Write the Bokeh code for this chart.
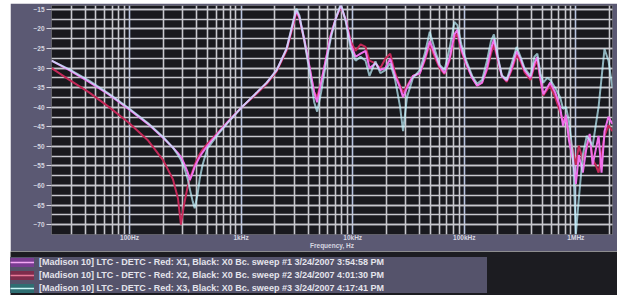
import numpy as np
from bokeh.plotting import figure
from bokeh.models import FixedTicker, Legend, LegendItem, Spacer
from bokeh.layouts import column, row
from bokeh.embed import file_html
from bokeh.resources import INLINE

FREQ_HZ = [20, 28.9, 43.4, 65.2, 98, 147,
           200, 245, 272, 289, 307, 333, 347, 369, 384, 408, 425, 452,
           500, 613, 752, 1021, 1386, 1699, 2084, 2554,
           2945, 3132, 3329, 3687, 4081, 4519, 4804, 5212, 5771, 6390, 7075, 7832, 8673, 9603, 10630, 11770, 13040, 14150,
           15990, 17700, 19600, 21700, 24020, 26600, 28280, 30680, 34680, 40000, 44290, 49040, 54290, 60100, 66560, 73700,
           81600, 86740, 94120, 104200, 117800,
           130400, 144400, 159800, 173500, 184400, 200000, 217000, 240200, 266000, 294600, 319400, 346800, 391800, 425200,
           451800, 480400, 510800, 554000, 588800, 652200, 722200, 767600, 816000, 867400, 941200,
           1000400, 1063600, 1154000, 1252000, 1330600, 1414800, 1503600, 1598400, 1699200, 1806600, 1960000, 2126000]

SWEEP1_DB = [-28.1, -30.5, -33.5, -36.7, -40.4, -44.3,
             -47.8, -50.3, -51.7, -52.7, -54.2, -56.7, -58.6, -56.7, -55.2, -53.7, -52.7, -51.5,
             -49.8, -46.8, -43.9, -39.9, -36.2, -33.7, -30.5, -25.1,
             -18.2, -15.2, -17.0, -22.6, -29.3, -36.2, -38.7, -33.7, -27.6, -21.4, -17.2, -14.0, -17.7, -23.9, -27.1, -26.3, -25.6, -30.0,
             -28.8, -30.5, -30.0, -27.6, -32.0, -35.0, -37.4, -35.0, -32.0, -31.3, -27.6, -23.1, -26.3, -29.5, -31.3, -27.6,
             -21.4, -20.2, -25.1, -28.8, -32.5,
             -34.5, -33.7, -30.0, -25.1, -22.6, -27.6, -32.0, -33.2, -30.0, -25.6, -27.6, -30.5, -32.5, -28.8,
             -27.1, -32.5, -36.7, -35.0, -33.7, -36.2, -39.9, -44.8, -41.9, -48.5, -53.5,
             -59.6, -52.2, -56.7, -49.8, -46.8, -54.7, -51.0, -47.3, -56.7, -46.1, -42.4, -44.3]

SWEEP2_DB = [-30.0, -33.0, -36.2, -39.9, -43.9, -48.5,
             -53.5, -58.4, -63.3, -70.0, -65.1, -60.1, -58.4, -56.2, -54.7, -53.0, -52.0, -50.8,
             -49.3, -46.6, -43.9, -39.9, -36.5, -34.0, -30.8, -25.6,
             -18.7, -15.7, -17.2, -23.1, -29.5, -36.2, -37.4, -33.7, -27.6, -21.4, -17.2, -14.3, -17.7, -23.1, -25.6, -23.9, -24.6, -28.1,
             -28.8, -30.0, -27.6, -26.3, -31.3, -34.5, -36.2, -34.5, -32.0, -31.3, -28.1, -23.9, -27.1, -30.0, -31.5, -28.1,
             -22.2, -21.2, -25.6, -29.1, -32.5,
             -34.5, -33.7, -30.5, -26.3, -23.9, -28.1, -32.0, -33.5, -30.5, -26.6, -28.3, -31.0, -33.0, -29.5,
             -28.1, -33.0, -37.0, -35.5, -34.5, -37.4, -41.1, -43.6, -42.4, -47.3, -51.0,
             -54.7, -49.8, -53.5, -50.3, -47.3, -53.5, -54.7, -56.7, -52.2, -47.3, -44.6, -46.1]

SWEEP3_DB = [-28.1, -30.3, -33.2, -36.5, -40.2, -44.1,
             -47.6, -50.3, -52.2, -53.5, -55.2, -58.4, -60.9, -64.1, -65.8, -62.1, -58.4, -54.7,
             -50.5, -47.1, -44.1, -39.9, -36.2, -33.7, -30.5, -25.1,
             -17.7, -14.8, -16.5, -23.1, -30.5, -38.7, -41.1, -36.2, -28.8, -22.2, -17.2, -13.5, -18.2, -25.1, -28.1, -27.1, -28.1, -32.0,
             -28.3, -31.3, -30.5, -28.8, -33.0, -39.9, -46.1, -37.4, -32.5, -30.5, -26.3, -20.7, -25.1, -29.1, -30.5, -25.1,
             -18.2, -19.0, -23.9, -28.1, -32.0,
             -34.0, -33.0, -28.1, -23.1, -21.4, -27.1, -31.8, -33.0, -28.8, -24.6, -27.1, -30.0, -32.0, -27.1,
             -26.3, -31.3, -33.7, -32.5, -33.0, -35.0, -37.4, -40.4, -39.9, -43.6, -52.2,
             -72.4, -63.3, -52.2, -47.3, -48.5, -49.8, -44.8, -39.9, -32.5, -25.1, -28.1, -35.0]

Y_TICKS = [-15, -20, -25, -30, -35, -40, -45, -50, -55, -60, -65, -70]
X_TICKS = [100, 1000, 10000, 100000, 1000000]
X_TICK_LABELS = ["100Hz", "1kHz", "10kHz", "100kHz", "1MHz"]
LEGEND_LABELS = [
    "[Madison 10] LTC - DETC - Red: X1, Black: X0 Bc. sweep #1 3/24/2007 3:54:58 PM",
    "[Madison 10] LTC - DETC - Red: X2, Black: X0 Bc. sweep #2 3/24/2007 4:01:30 PM",
    "[Madison 10] LTC - DETC - Red: X3, Black: X0 Bc. sweep #3 3/24/2007 4:17:41 PM",
]

FONT = "Liberation Sans"
PANEL = "#5b5973"
GRID = "#c8c8ce"
TXT = "#d6d6e0"

x_minor = [m * 10.0 ** e for e in range(1, 7) for m in range(2, 10)
           if 20 <= m * 10.0 ** e <= 2.2e6]
y_minor = [float(v) for v in np.arange(-72.5, -12.0, 2.5)]

p = figure(width=607, height=248, x_axis_type="log",
           x_range=(20, 2.13e6), y_range=(-72.5, -14.0),
           output_backend="svg", toolbar_location=None,
           min_border_left=41, min_border_right=5, min_border_top=2, min_border_bottom=12,
           background_fill_color="#19191e", border_fill_color=PANEL,
           outline_line_color=None)

p.xaxis.ticker = FixedTicker(ticks=X_TICKS, minor_ticks=x_minor)
p.xaxis.major_label_overrides = {t: l for t, l in zip(X_TICKS, X_TICK_LABELS)}
p.yaxis.ticker = FixedTicker(ticks=Y_TICKS, minor_ticks=y_minor)

for g in (p.xgrid, p.ygrid):
    g.grid_line_color = GRID
    g.grid_line_width = 1.6
    g.minor_grid_line_color = GRID
    g.minor_grid_line_width = 1.6
p.xgrid.grid_line_color = "#b8c4e0"

for ax in (p.xaxis, p.yaxis):
    ax.axis_line_color = None
    ax.minor_tick_line_color = None
    ax.minor_tick_out = 0
    ax.minor_tick_in = 0
    ax.major_label_text_font = FONT
    ax.major_label_text_font_style = "bold"
    ax.major_label_text_font_size = "6.5px"
    ax.major_label_text_color = TXT
p.xaxis.major_tick_line_color = None
p.xaxis.major_tick_out = 0
p.xaxis.major_tick_in = 0
p.xaxis.major_label_standoff = -1
p.yaxis.major_tick_line_color = TXT
p.yaxis.major_tick_out = 5
p.yaxis.major_tick_in = 0
p.yaxis.major_label_standoff = 2
p.xaxis.axis_label = "Frequency, Hz"
p.xaxis.axis_label_text_font = FONT
p.xaxis.axis_label_text_font_style = "bold"
p.xaxis.axis_label_text_font_size = "6.5px"
p.xaxis.axis_label_text_color = TXT
p.xaxis.axis_label_standoff = -2

p.line(FREQ_HZ, SWEEP2_DB, line_color="#c42858", line_width=2)
p.line(FREQ_HZ, SWEEP1_DB, line_color="#f070ec", line_width=2)
p.line(FREQ_HZ, SWEEP3_DB, line_color="#c0f4ff", line_width=2, line_alpha=0.7)

# legend strip: a separate root so its frame is not aligned with the chart's frame
p2 = figure(width=607, height=44, output_backend="svg", toolbar_location=None,
            x_axis_location=None, y_axis_location=None, min_border=0,
            x_range=(0, 1), y_range=(0, 1),
            background_fill_color="#1c1c21", border_fill_color="#1c1c21",
            outline_line_color=None)
p2.grid.visible = False

icon_boxes = ["#7a3c92", "#7e2c4c", "#2e6e72"]
icon_lines = ["#f4a8f4", "#e87898", "#c8f6f6"]
items = []
for lab, bc, lc in zip(LEGEND_LABELS, icon_boxes, icon_lines):
    # legend-only swatches: their data lies outside the strip's visible ranges
    rb = p2.line(x=[5, 6], y=[5, 6], line_color=bc, line_width=9)
    rl = p2.line(x=[5, 6], y=[5, 6], line_color=lc, line_width=1.5)
    items.append(LegendItem(label=lab, renderers=[rb, rl]))

legend = Legend(items=items, location=(0, 2), margin=0, padding=3, spacing=3,
                glyph_width=24, glyph_height=10, label_height=10, label_width=448,
                label_standoff=5, label_text_font=FONT, label_text_font_style="bold",
                label_text_font_size="9px", label_text_color="#e4e4ec",
                background_fill_color="#55536b", background_fill_alpha=1.0,
                border_line_color=None)
p2.add_layout(legend)

top = column(Spacer(height=3), row(Spacer(width=10), p, spacing=0), spacing=0)
bottom = row(Spacer(width=10), p2, spacing=0)
open("out.html", "w").write(file_html([top, bottom], INLINE))
